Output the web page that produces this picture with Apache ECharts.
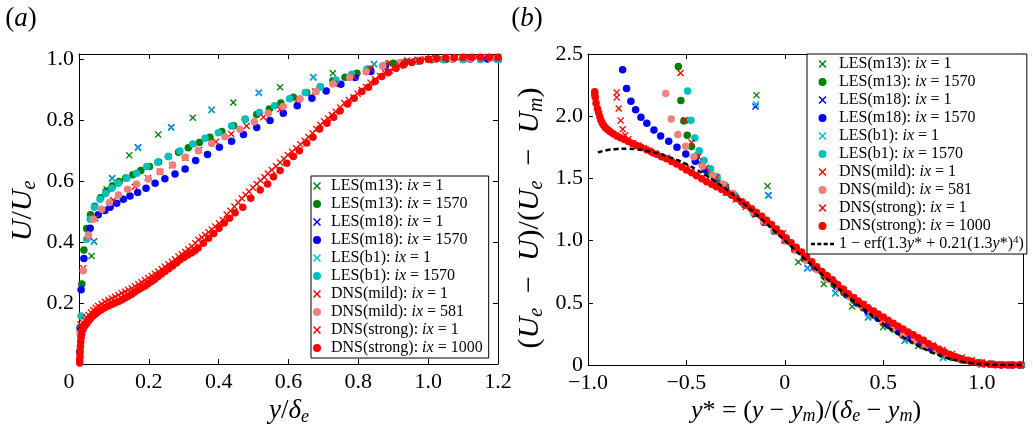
<!DOCTYPE html>
<html>
<head>
<meta charset="utf-8">
<script src="https://cdn.jsdelivr.net/npm/echarts@6/dist/echarts.min.js"></script>
<style>
html,body{margin:0;padding:0;background:#fff;}
#main{width:1033px;height:431px;}
</style>
</head>
<body>
<div id="main"></div>
<script>
// ---- panel (a): U/Ue against y/delta_e ----
let lesM13Ix1L = [[0.036,0.354],[0.079,0.573],[0.144,0.684],[0.227,0.752],[0.326,0.807],[0.442,0.857],[0.576,0.907],[0.727,0.953],[0.891,0.986],[1.05,1.0],[1.2,1.0]];
let lesM13EndL = [[0.003,0.12],[0.008,0.262],[0.014,0.374],[0.022,0.444],[0.033,0.489],[0.045,0.517],[0.062,0.545],[0.078,0.566],[0.096,0.584],[0.115,0.598],[0.134,0.61],[0.154,0.62],[0.177,0.634],[0.202,0.647],[0.228,0.662],[0.256,0.68],[0.285,0.694],[0.313,0.709],[0.345,0.726],[0.375,0.743],[0.409,0.762],[0.443,0.781],[0.476,0.802],[0.509,0.818],[0.545,0.836],[0.578,0.855],[0.614,0.874],[0.652,0.89],[0.691,0.909],[0.727,0.928],[0.762,0.94],[0.796,0.953],[0.834,0.966],[0.872,0.977],[0.901,0.986],[0.934,0.989],[0.97,0.994],[1.01,0.997],[1.05,0.998],[1.1,0.998],[1.15,0.998],[1.2,0.998]];
let lesM18Ix1L = [[0.043,0.402],[0.095,0.609],[0.169,0.710],[0.264,0.776],[0.380,0.833],[0.515,0.889],[0.671,0.940],[0.845,0.983],[1.03,0.999],[1.2,1.0]];
let lesM18EndL = [[0.002,0.04],[0.004,0.11],[0.006,0.243],[0.014,0.346],[0.032,0.445],[0.055,0.489],[0.074,0.503],[0.089,0.514],[0.108,0.527],[0.127,0.54],[0.146,0.551],[0.168,0.562],[0.192,0.576],[0.218,0.592],[0.246,0.607],[0.275,0.623],[0.304,0.639],[0.334,0.667],[0.368,0.687],[0.402,0.71],[0.437,0.73],[0.471,0.752],[0.509,0.775],[0.547,0.798],[0.585,0.822],[0.625,0.846],[0.667,0.871],[0.708,0.895],[0.75,0.917],[0.791,0.939],[0.836,0.959],[0.877,0.975],[0.92,0.986],[0.968,0.995],[1.02,0.999],[1.07,1.0],[1.12,1.0],[1.17,1.0],[1.2,1.0]];
let lesB1Ix1L = [[0.043,0.400],[0.095,0.607],[0.169,0.708],[0.264,0.774],[0.380,0.832],[0.515,0.888],[0.671,0.939],[0.845,0.982],[1.03,0.999],[1.2,1.0]];
let lesB1EndL = [[0.006,0.157],[0.022,0.409],[0.032,0.474],[0.044,0.514],[0.06,0.54],[0.076,0.559],[0.094,0.576],[0.113,0.592],[0.137,0.609],[0.165,0.625],[0.194,0.647],[0.225,0.661],[0.256,0.68],[0.289,0.698],[0.326,0.721],[0.361,0.74],[0.399,0.758],[0.437,0.78],[0.476,0.802],[0.517,0.824],[0.56,0.846],[0.603,0.869],[0.648,0.89],[0.691,0.909],[0.736,0.931],[0.781,0.95],[0.824,0.966],[0.87,0.977],[0.92,0.986],[0.97,0.992],[1.044,0.997],[1.1,0.998],[1.15,0.998],[1.2,0.998]];
let dnsMildIx1L = [[0.004,0.13],[0.012,0.314],[0.027,0.42],[0.046,0.478],[0.098,0.537],[0.16,0.581],[0.197,0.61],[0.232,0.63],[0.267,0.651],[0.305,0.676],[0.344,0.702],[0.392,0.728],[0.436,0.754],[0.48,0.78],[0.528,0.809],[0.576,0.835],[0.626,0.865],[0.676,0.893],[0.732,0.918],[0.786,0.942],[0.834,0.967],[0.886,0.985],[0.94,0.995],[1.0,1.0],[1.06,1.002],[1.12,1.003],[1.18,1.003]];
let dnsMildEndL = [[0.003,0.1],[0.012,0.306],[0.027,0.423],[0.041,0.474],[0.065,0.507],[0.087,0.529],[0.113,0.554],[0.139,0.573],[0.165,0.59],[0.199,0.606],[0.232,0.631],[0.268,0.652],[0.304,0.678],[0.342,0.699],[0.38,0.723],[0.418,0.745],[0.461,0.769],[0.502,0.794],[0.542,0.822],[0.585,0.844],[0.633,0.869],[0.679,0.893],[0.727,0.918],[0.775,0.939],[0.822,0.958],[0.87,0.977],[0.92,0.988],[0.972,0.995],[1.02,0.999],[1.07,1.0],[1.12,1.001],[1.178,1.002]];
let dnsStrIx1L = [[0.003,0.03],[0.004,0.07],[0.006,0.1],[0.008,0.122],[0.012,0.134],[0.017,0.144],[0.022,0.153],[0.027,0.161],[0.034,0.169],[0.041,0.177],[0.048,0.184],[0.055,0.19],[0.065,0.197],[0.074,0.204],[0.084,0.21],[0.094,0.215],[0.103,0.22],[0.113,0.226],[0.122,0.232],[0.132,0.237],[0.141,0.243],[0.151,0.248],[0.16,0.255],[0.17,0.261],[0.179,0.268],[0.189,0.275],[0.198,0.282],[0.208,0.289],[0.217,0.296],[0.227,0.303],[0.237,0.311],[0.246,0.319],[0.256,0.327],[0.266,0.335],[0.275,0.343],[0.285,0.352],[0.294,0.36],[0.304,0.368],[0.313,0.376],[0.323,0.385],[0.333,0.396],[0.342,0.407],[0.352,0.415],[0.361,0.423],[0.371,0.432],[0.38,0.441],[0.39,0.451],[0.401,0.461],[0.412,0.472],[0.423,0.49],[0.434,0.502],[0.445,0.516],[0.456,0.529],[0.466,0.543],[0.477,0.554],[0.487,0.565],[0.498,0.578],[0.509,0.59],[0.52,0.601],[0.531,0.612],[0.541,0.624],[0.552,0.636],[0.564,0.648],[0.576,0.66],[0.587,0.672],[0.598,0.685],[0.61,0.696],[0.622,0.707],[0.634,0.72],[0.646,0.732],[0.657,0.744],[0.669,0.756],[0.68,0.77],[0.691,0.784],[0.702,0.795],[0.713,0.805],[0.724,0.816],[0.735,0.827],[0.748,0.841],[0.76,0.855],[0.773,0.865],[0.786,0.874],[0.798,0.886],[0.81,0.898],[0.822,0.908],[0.835,0.922],[0.848,0.933],[0.862,0.944],[0.877,0.953],[0.89,0.961],[0.904,0.969],[0.918,0.978],[0.933,0.986],[0.95,0.992],[0.97,0.997],[0.99,1.0],[1.02,1.003],[1.05,1.005],[1.08,1.006],[1.11,1.006],[1.14,1.006],[1.17,1.006],[1.2,1.006]];
let dnsStrEndL = [[0.002,0.003],[0.002,0.013],[0.003,0.025],[0.003,0.04],[0.004,0.057],[0.005,0.073],[0.006,0.088],[0.008,0.1],[0.012,0.115],[0.017,0.125],[0.022,0.133],[0.027,0.141],[0.033,0.149],[0.04,0.157],[0.047,0.164],[0.055,0.171],[0.064,0.178],[0.074,0.184],[0.084,0.19],[0.093,0.195],[0.103,0.2],[0.113,0.205],[0.122,0.21],[0.132,0.216],[0.141,0.222],[0.151,0.229],[0.16,0.236],[0.17,0.243],[0.179,0.25],[0.189,0.256],[0.198,0.263],[0.208,0.27],[0.217,0.278],[0.227,0.287],[0.236,0.295],[0.246,0.303],[0.257,0.312],[0.268,0.321],[0.279,0.331],[0.289,0.341],[0.3,0.349],[0.311,0.357],[0.322,0.364],[0.332,0.371],[0.341,0.38],[0.356,0.396],[0.371,0.412],[0.386,0.428],[0.401,0.445],[0.416,0.462],[0.431,0.478],[0.447,0.496],[0.469,0.514],[0.492,0.543],[0.519,0.57],[0.54,0.59],[0.557,0.614],[0.576,0.634],[0.595,0.658],[0.614,0.68],[0.631,0.699],[0.652,0.724],[0.67,0.743],[0.689,0.77],[0.71,0.789],[0.729,0.809],[0.748,0.83],[0.769,0.852],[0.788,0.871],[0.81,0.893],[0.829,0.907],[0.848,0.926],[0.867,0.942],[0.886,0.955],[0.908,0.969],[0.929,0.98],[0.953,0.988],[0.977,0.993],[1.001,0.998],[1.025,1.001],[1.05,1.003],[1.075,1.004],[1.1,1.005],[1.125,1.005],[1.15,1.005],[1.175,1.005],[1.2,1.005]];

// ---- panel (b): defect against y* ----
let lesM13Ix1R = [[-0.144,2.169],[-0.088,1.438],[-0.008,1.062],[0.068,0.828],[0.198,0.651],[0.342,0.47],[0.499,0.304],[0.677,0.153],[0.843,0.067],[1.02,0.01],[1.2,0.0]];
let lesM13EndR = [[-0.541,2.40],[-0.528,2.126],[-0.513,1.962],[-0.496,1.847],[-0.474,1.756],[-0.45,1.68],[-0.42,1.615],[-0.385,1.555],[-0.345,1.49],[-0.3,1.425],[-0.255,1.358],[-0.205,1.29],[-0.155,1.218],[-0.105,1.148],[-0.053,1.075],[0,1.0],[0.05,0.928],[0.1,0.856],[0.15,0.785],[0.2,0.715],[0.25,0.648],[0.3,0.583],[0.35,0.52],[0.4,0.459],[0.45,0.4],[0.5,0.344],[0.55,0.29],[0.6,0.24],[0.65,0.195],[0.7,0.155],[0.75,0.118],[0.8,0.087],[0.85,0.061],[0.9,0.04],[0.95,0.024],[1.0,0.013],[1.05,0.006],[1.1,0.002],[1.15,0.001],[1.2,0.0]];
let lesM18Ix1R = [[-0.149,2.078],[-0.083,1.365],[0.115,0.78],[0.257,0.578],[0.423,0.385],[0.609,0.196],[0.804,0.059],[1.0,0.005],[1.2,0.0]];
let lesM18EndR = [[-0.824,2.373],[-0.804,2.223],[-0.782,2.121],[-0.758,2.051],[-0.731,1.992],[-0.701,1.944],[-0.665,1.890],[-0.631,1.841],[-0.590,1.798],[-0.548,1.750],[-0.503,1.696],[-0.455,1.637],[-0.405,1.57],[-0.355,1.5],[-0.305,1.43],[-0.255,1.36],[-0.205,1.29],[-0.155,1.218],[-0.105,1.148],[-0.053,1.075],[0,1.0],[0.053,0.925],[0.105,0.85],[0.158,0.775],[0.21,0.702],[0.263,0.63],[0.315,0.563],[0.368,0.497],[0.42,0.435],[0.473,0.375],[0.525,0.32],[0.578,0.268],[0.63,0.22],[0.683,0.177],[0.735,0.138],[0.788,0.104],[0.84,0.075],[0.893,0.05],[0.945,0.031],[0.998,0.017],[1.05,0.008],[1.1,0.003],[1.15,0.001],[1.2,0.0]];
let lesB1Ix1R = [[-0.147,2.097],[-0.083,1.36],[0.115,0.775],[0.257,0.575],[0.423,0.38],[0.609,0.193],[0.804,0.057],[1.0,0.005],[1.2,0.0]];
let lesB1EndR = [[-0.494,2.202],[-0.477,1.968],[-0.457,1.825],[-0.435,1.723],[-0.41,1.643],[-0.377,1.578],[-0.344,1.514],[-0.305,1.445],[-0.26,1.372],[-0.21,1.298],[-0.16,1.226],[-0.108,1.152],[-0.055,1.077],[0,1.0],[0.055,0.922],[0.11,0.845],[0.165,0.768],[0.22,0.693],[0.275,0.62],[0.33,0.55],[0.385,0.484],[0.44,0.42],[0.495,0.36],[0.55,0.303],[0.605,0.251],[0.66,0.203],[0.715,0.16],[0.77,0.121],[0.825,0.088],[0.88,0.06],[0.935,0.038],[0.99,0.021],[1.045,0.01],[1.1,0.004],[1.155,0.001],[1.2,0.0]];
let dnsMildIx1R = [[-0.53,2.347],[-0.508,1.968],[-0.474,1.788],[-0.44,1.675],[-0.401,1.586],[-0.35,1.506],[-0.3,1.43],[-0.2,1.29],[-0.1,1.148],[0,1.0],[0.1,0.856],[0.2,0.717],[0.3,0.585],[0.4,0.46],[0.5,0.346],[0.6,0.244],[0.7,0.158],[0.8,0.089],[0.9,0.04],[1.0,0.013],[1.1,0.002],[1.2,0.0]];
let dnsMildEndR = [[-0.605,2.183],[-0.577,1.978],[-0.543,1.852],[-0.504,1.758],[-0.462,1.675],[-0.418,1.599],[-0.367,1.524],[-0.316,1.454],[-0.265,1.38],[-0.213,1.31],[-0.16,1.235],[-0.108,1.16],[-0.055,1.08],[0,1.0],[0.055,0.92],[0.11,0.843],[0.165,0.765],[0.22,0.69],[0.275,0.617],[0.33,0.548],[0.385,0.48],[0.44,0.417],[0.495,0.357],[0.55,0.3],[0.605,0.248],[0.66,0.2],[0.715,0.157],[0.77,0.118],[0.825,0.085],[0.88,0.057],[0.935,0.035],[0.99,0.019],[1.045,0.008],[1.1,0.003],[1.155,0.0]];
let dnsStrIx1R = [[-0.854,2.191],[-0.854,2.151],[-0.844,2.062],[-0.834,1.965],[-0.824,1.895],[-0.811,1.847],[-0.795,1.815],[-0.77,1.782],[-0.745,1.765],[-0.718,1.745],[-0.69,1.724],[-0.66,1.70],[-0.6,1.665],[-0.55,1.625],[-0.5,1.58],[-0.45,1.535],[-0.4,1.49],[-0.35,1.44],[-0.3,1.385],[-0.25,1.33],[-0.2,1.27],[-0.15,1.21],[-0.1,1.145],[-0.05,1.075],[0,1.0],[0.05,0.93],[0.1,0.858],[0.15,0.79],[0.2,0.725],[0.25,0.66],[0.3,0.6],[0.35,0.54],[0.4,0.485],[0.45,0.432],[0.5,0.38],[0.55,0.332],[0.6,0.285],[0.65,0.24],[0.7,0.198],[0.75,0.158],[0.8,0.12],[0.85,0.088],[0.9,0.06],[0.95,0.038],[1.0,0.021],[1.05,0.01],[1.1,0.004],[1.15,0.001],[1.2,0.0]];
let dnsStrEndR = [[-0.966,2.196],[-0.966,2.175],[-0.963,2.15],[-0.959,2.105],[-0.952,2.06],[-0.946,2.03],[-0.94,1.995],[-0.935,1.97],[-0.928,1.945],[-0.92,1.925],[-0.91,1.905],[-0.898,1.89],[-0.885,1.872],[-0.87,1.857],[-0.853,1.84],[-0.835,1.826],[-0.815,1.812],[-0.795,1.796],[-0.774,1.781],[-0.753,1.765],[-0.73,1.75],[-0.702,1.73],[-0.677,1.712],[-0.651,1.694],[-0.626,1.675],[-0.601,1.657],[-0.575,1.636],[-0.55,1.615],[-0.524,1.592],[-0.499,1.568],[-0.473,1.545],[-0.448,1.521],[-0.422,1.497],[-0.397,1.474],[-0.372,1.452],[-0.347,1.432],[-0.321,1.411],[-0.296,1.388],[-0.27,1.364],[-0.245,1.338],[-0.22,1.312],[-0.194,1.284],[-0.169,1.256],[-0.144,1.226],[-0.118,1.196],[-0.093,1.163],[-0.068,1.129],[-0.043,1.094],[-0.018,1.058],[0.007,1.02],[0.032,0.983],[0.058,0.946],[0.085,0.908],[0.11,0.87],[0.137,0.83],[0.162,0.79],[0.188,0.752],[0.215,0.718],[0.242,0.685],[0.268,0.648],[0.295,0.61],[0.322,0.573],[0.348,0.543],[0.373,0.515],[0.398,0.488],[0.423,0.461],[0.449,0.435],[0.474,0.41],[0.5,0.385],[0.525,0.36],[0.55,0.336],[0.575,0.312],[0.6,0.289],[0.626,0.266],[0.652,0.243],[0.678,0.22],[0.704,0.199],[0.73,0.17],[0.757,0.148],[0.784,0.126],[0.811,0.105],[0.838,0.085],[0.866,0.067],[0.894,0.051],[0.922,0.038],[0.951,0.027],[0.98,0.018],[1.01,0.011],[1.04,0.006],[1.07,0.003],[1.1,0.001],[1.13,0.0],[1.16,0.0],[1.19,0.0]];

// dashed fit 1 - erf(1.3y* + 0.21(1.3y*)^4)
let fitX = [-0.95,-0.9,-0.85,-0.8,-0.75,-0.7,-0.65,-0.6,-0.55,-0.5,-0.45,-0.4,-0.35,-0.3,-0.25,-0.2,-0.15,-0.1,-0.05,0,0.05,0.1,0.15,0.2,0.25,0.3,0.35,0.4,0.45,0.5,0.55,0.6,0.65,0.7,0.75,0.8,0.85,0.9,0.95,1.0,1.05,1.1,1.15,1.2];
let fitY = [1.709,1.728,1.737,1.739,1.733,1.721,1.703,1.678,1.649,1.614,1.572,1.525,1.472,1.414,1.352,1.286,1.217,1.146,1.073,1.0,0.927,0.854,0.783,0.712,0.644,0.577,0.512,0.449,0.389,0.331,0.276,0.225,0.179,0.137,0.100,0.069,0.045,0.027,0.015,0.007,0.003,0.001,0.0,0.0];

let names = ['LES(m13): ix = 1','LES(m13): ix = 1570','LES(m18): ix = 1','LES(m18): ix = 1570','LES(b1): ix = 1','LES(b1): ix = 1570','DNS(mild): ix = 1','DNS(mild): ix = 581','DNS(strong): ix = 1','DNS(strong): ix = 1000'];
let colors = ['#008000','#008000','#0000ff','#0000ff','#00bfbf','#00bfbf','#ff0000','#f08080','#ff0000','#ff0000'];
let isCross = [true,false,true,false,true,false,true,false,true,false];
let leftData = [lesM13Ix1L,lesM13EndL,lesM18Ix1L,lesM18EndL,lesB1Ix1L,lesB1EndL,dnsMildIx1L,dnsMildEndL,dnsStrIx1L,dnsStrEndL];
let rightData = [lesM13Ix1R,lesM13EndR,lesM18Ix1R,lesM18EndR,lesB1Ix1R,lesB1EndR,dnsMildIx1R,dnsMildEndR,dnsStrIx1R,dnsStrEndR];
let fitName = '1 − erf(1.3y* + 0.21(1.3y*)4)';

const FONT = '"Liberation Serif","DejaVu Serif",serif';
const CROSS = 'path://M0,1.3L1.3,0L5,3.7L8.7,0L10,1.3L6.3,5L10,8.7L8.7,10L5,6.3L1.3,10L0,8.7L3.7,5Z';
const DASH = 'path://M0,0h4v2.4h-4z M6.4,0h4v2.4h-4z M12.8,0h4v2.4h-4z M19.2,0h4v2.4h-4z';
const TICK = 22;

function num(v) {
    if (Math.abs(v) < 1e-9) return '0';
    return (v < 0 ? '−' : '') + Math.abs(v).toFixed(1);
}

function axis(grid, pos, min, max, interval, fmt, margin) {
    return {
        type: 'value', gridIndex: grid, position: pos, min: min, max: max, interval: interval,
        axisLine: {show: true, onZero: false, lineStyle: {color: '#000', width: 1}},
        axisTick: {show: true, inside: true, length: 5, lineStyle: {color: '#000', width: 1}},
        splitLine: {show: false},
        axisLabel: fmt ? {
            show: true, margin: margin, color: '#000', fontFamily: FONT, fontSize: TICK, formatter: fmt,
            rich: {z: {fontFamily: FONT, fontSize: TICK, color: '#000', padding: [0, 20, 0, 0]}}
        } : {show: false}
    };
}

let series = [];
[leftData, rightData].forEach(function (set, p) {
    set.forEach(function (d, i) {
        series.push({
            type: 'scatter', name: names[i], data: d,
            xAxisIndex: p * 2, yAxisIndex: p * 2,
            symbol: isCross[i] ? CROSS : 'circle',
            symbolSize: isCross[i] ? 7 : 7.5,
            itemStyle: {color: colors[i], opacity: 1},
            silent: true
        });
    });
});
series.push({
    type: 'line', name: fitName, data: fitX.map(function (x, i) { return [x, fitY[i]]; }),
    xAxisIndex: 2, yAxisIndex: 2, symbol: 'none', smooth: true,
    itemStyle: {color: '#000'},
    lineStyle: {color: '#000', width: 2.5, type: [5, 3]}, z: 3
});

let legendText = {
    fontFamily: FONT, fontSize: 16, color: '#000', lineHeight: 18,
    rich: {
        i: {fontFamily: FONT, fontSize: 16, fontStyle: 'italic', lineHeight: 18},
        sup: {fontFamily: FONT, fontSize: 11, lineHeight: 12, verticalAlign: 'top'}
    }
};
function legendFmt(n) {
    if (n === fitName) return '1 − erf(1.3{i|y}* + 0.21(1.3{i|y}*){sup|4})';
    return n.replace('ix', '{i|ix}');
}
let legendItems = names.map(function (n, i) { return {name: n, icon: isCross[i] ? CROSS : 'circle'}; });

function title(x, y, text, rot, size) {
    let sub = Math.round(size * 0.68);
    return {
        type: 'text', x: x, y: y, rotation: rot || 0,
        style: {
            text: text, fontFamily: FONT, fontSize: size, lineHeight: size + 3, fill: '#000',
            align: 'center', verticalAlign: 'middle', textAlign: 'center', textVerticalAlign: 'middle',
            rich: {
                i: {fontFamily: FONT, fontSize: size, fontStyle: 'italic', lineHeight: size + 3, fill: '#000'},
                s: {fontFamily: FONT, fontSize: sub, fontStyle: 'italic', lineHeight: sub, verticalAlign: 'bottom', fill: '#000'}
            }
        }
    };
}

let chart = echarts.init(document.getElementById('main'));
chart.setOption({
    animation: false,
    backgroundColor: '#fff',
    grid: [
        {left: 79, top: 54, width: 419, height: 310},
        {left: 588, top: 54, width: 435, height: 311}
    ],
    xAxis: [
        axis(0, 'bottom', 0, 1.2, 0.2, function (v) { return v === 0 ? '{z|0}' : num(v); }, 7),
        axis(0, 'top', 0, 1.2, 0.2, null),
        axis(1, 'bottom', -1.0, 1.21, 0.5, function (v) { return v > 1.1 ? '' : num(v); }, 7),
        axis(1, 'top', -1.0, 1.21, 0.5, null)
    ],
    yAxis: [
        axis(0, 'left', 0, 1.016, 0.2, function (v) { return (v < 0.1 || v > 1.001) ? '' : num(v); }, 5),
        axis(0, 'right', 0, 1.016, 0.2, null),
        axis(1, 'left', 0, 2.5, 0.5, function (v) { return num(v); }, 5),
        axis(1, 'right', 0, 2.5, 0.5, null)
    ],
    legend: [
        {
            orient: 'vertical', left: 311, top: 176, padding: [1, 6, 1, 2], itemGap: 0,
            itemWidth: 18, itemHeight: 8, data: legendItems, formatter: legendFmt,
            textStyle: legendText, borderColor: '#000', borderWidth: 1, borderRadius: 0,
            backgroundColor: '#fff', selectedMode: false
        },
        {
            orient: 'vertical', left: 807, top: 54, padding: [1, 3, 1, 4], itemGap: 0,
            itemWidth: 23, itemHeight: 8,
            data: legendItems.concat([{name: fitName, icon: DASH}]), formatter: legendFmt,
            textStyle: legendText, borderColor: '#000', borderWidth: 1, borderRadius: 0,
            backgroundColor: '#fff', selectedMode: false
        }
    ],
    graphic: [
        title(21, 19, '({i|a})', 0, 27),
        title(527, 19, '({i|b})', 0, 27),
        title(23, 211, '{i|U}/{i|U}{s|e}', Math.PI / 2, 30),
        title(530, 218, '({i|U}{s|e}  −  {i|U})/({i|U}{s|e}  −  {i|U}{s|m})', Math.PI / 2, 30),
        title(289, 411, '{i|y}/{i|δ}{s|e}', 0, 27),
        title(806, 411, '{i|y}* = ({i|y} − {i|y}{s|m})/({i|δ}{s|e} − {i|y}{s|m})', 0, 26)
    ],
    series: series
});
</script>
</body>
</html>
